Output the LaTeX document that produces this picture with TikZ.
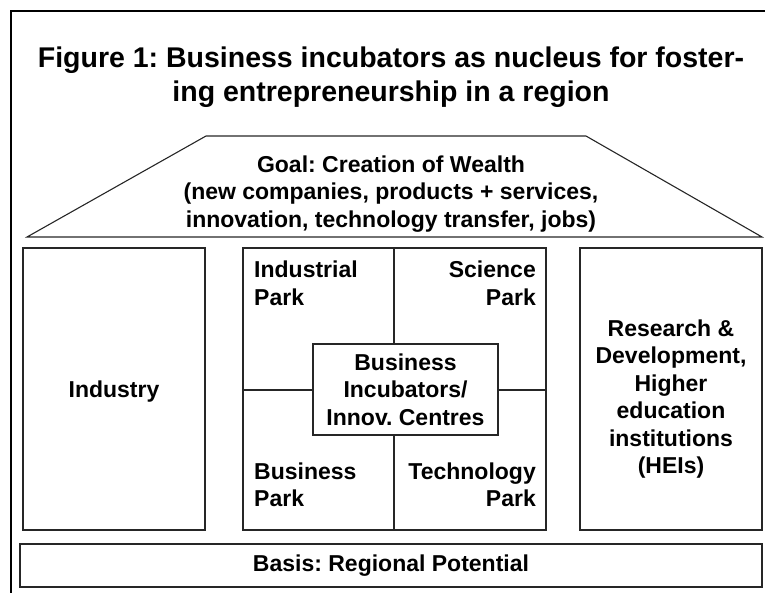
\documentclass[tikz,border=0pt]{standalone}
\usepackage{fontspec}
\setmainfont{Liberation Sans}
\frenchspacing
\begin{document}
\begin{tikzpicture}[x=1pt, y=-1pt,
    box/.style={draw=black!85, line width=1.1pt},
    label/.style={font=\bfseries\fontsize{23}{27.5}\selectfont, inner sep=0pt}]
    \useasboundingbox (0, 0) rectangle (765, 592);
    \clip (0, 0) rectangle (765, 592);

    % Frame (runs off the right and bottom edges)
    \draw[line width=1.6pt] (11, 620) -- (11, 11) -- (790, 11);

    % Title
    \node[font=\bfseries\fontsize{28.5}{34}\selectfont, align=center] (title) at (391, 77)
        {Figure 1: Business incubators as nucleus for foster-\\ing entrepreneurship in a region};

    % Roof
    \draw[box] (27, 237) -- (206, 136) -- (586, 136) -- (762, 237) -- cycle;
    \node[label, align=center] (goal) at (391, 194)
        {Goal: Creation of Wealth\\(new companies, products + services,\\innovation, technology transfer, jobs)};

    % Pillars
    \draw[box] (23, 248) rectangle (205, 530);
    \node[label] (industry) at (114, 392) {Industry};

    \draw[box] (243, 248) rectangle (546, 530);
    \draw[box] (394, 248) -- (394, 530);
    \draw[box] (243, 390) -- (546, 390);
    \node[label, anchor=north west, align=left] (ipark) at (254, 261) {Industrial\\Park};
    \node[label, anchor=north east, align=right] (spark) at (536, 261) {Science\\Park};
    \node[label, anchor=south west, align=left] (bpark) at (254, 507) {Business\\Park};
    \node[label, anchor=south east, align=right] (tpark) at (536, 507) {Technology\\Park};

    % Nucleus in the middle
    \node[box, label, fill=white, align=center, minimum width=185, minimum height=91] (nucleus) at (405.5, 389.5)
        {Business\\Incubators/\\Innov. Centres};

    \draw[box] (580, 248) rectangle (762, 530);
    \node[label, align=center] (rnd) at (671, 399)
        {Research \&\\Development,\\Higher\\education\\institutions\\(HEIs)};

    % Foundation
    \draw[box] (20, 544) rectangle (762, 587);
    \node[label] (basis) at (391, 565.5) {Basis: Regional Potential};
\end{tikzpicture}
\end{document}
